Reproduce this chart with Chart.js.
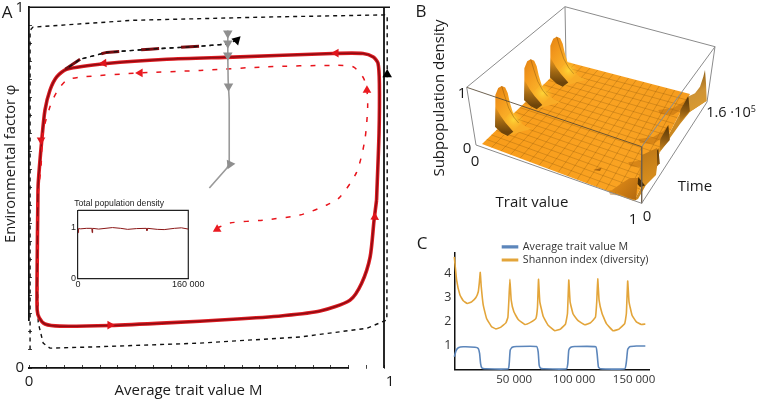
<!DOCTYPE html>
<html><head><meta charset="utf-8">
<script src="https://cdn.jsdelivr.net/npm/chart.js@4"></script>
<style>
html,body{margin:0;padding:0;background:#fff;width:757px;height:400px;overflow:hidden}
canvas{position:absolute;display:block}
.t{position:absolute;white-space:nowrap;font-family:"Open Sans",sans-serif;color:#1a1a1a;transform:translate(-50%,-50%);line-height:1}
</style></head><body>
<canvas id="a" width="410" height="400" style="left:0;top:0"></canvas>
<canvas id="b" width="347" height="230" style="left:410px;top:0"></canvas>
<canvas id="c" width="250" height="164" style="left:420px;top:236px"></canvas>
<canvas id="i" width="166" height="100" style="left:50px;top:195px"></canvas>
<script>
// ---------- Panel A: phase plane ----------
const mainX=[.979,.986,.987,.983,.970,.941,.856,.575,.388,.219,.106,.078,.059,.045,.036,.026,.025,.023,.023,.029,.045,.087,.228,.388,.575,.715,.820,.904,.937,.961,.972,.979];
const mainY=[.465,.651,.789,.845,.862,.872,.872,.862,.856,.844,.828,.807,.770,.715,.632,.512,.465,.281,.161,.139,.122,.116,.118,.125,.135,.145,.158,.188,.235,.308,.410,.465];
const transientX=[.529,.566,.659,.763,.839,.876,.923,.946,.954,.951,.941,.913,.856,.670,.482,.313,.152,.106,.078,.059,.039,.034,.025,.024,.023];
const transientY=[.388,.402,.410,.424,.452,.474,.543,.632,.723,.778,.806,.835,.839,.835,.825,.818,.807,.798,.765,.724,.651,.560,.474,.299,.161];
const outerX=[.585,.557,.482,.341,.219,.144,.106,.076,.059,.045,.036,.026,.023,.026,.040,.059,.2,.482,.763,.951,1.008,1.009,1.009,1.003,.670,.293,.011,.003,.003];
const outerY=[.909,.898,.892,.884,.875,.856,.830,.806,.770,.715,.632,.512,.281,.125,.069,.055,.059,.069,.086,.110,.133,.465,.978,.979,.973,.964,.945,.936,.05];
const thickX=[.102,.144,.219,.341,.482,.53];
const thickY=[.828,.856,.875,.884,.892,.896];
const grayX=[.508,.557,.566,.564,.561,.560,.560];
const grayY=[.499,.554,.568,.742,.798,.862,.936];
const redArrowX=[.228,.865,.211,.034,.974], redArrowY=[.119,.873,.845,.632,.418], redArrowDir=[90,270,266,180,2];
const dashArrowX=[.313,.952,.530], dashArrowY=[.818,.770,.385], dashArrowDir=[270,0,240];
const blackArrowX=[.585,1.009], blackArrowY=[.909,.814], blackArrowDir=[285,0];
const grayArrowX=[.560,.560,.560,.562,.566], grayArrowY=[.928,.900,.867,.781,.565], grayArrowDir=[180,180,180,180,205];
const axisEnd=1.0169;
// ---------- Inset: total population density ----------
const insetTime=[0,800,4000,12000,20000,20600,21200,30000,50000,62000,72000,85000,99000,100000,101000,115000,125000,140000,150000,160000];
const insetValue=[.90,.98,.975,.985,.985,.90,.985,.97,1.0,.985,.965,.98,.985,.94,.985,.965,.96,.985,.995,.97];
// ---------- Panel C: time series ----------
const shannonTime=[0,1944,4722,7500,10833,14444,18056,20000,20833,21667,22500,24167,26944,31111,34722,38611,43056,44722,45555,46389,47500,49722,53333,58888,63611,68055,69444,70278,71389,74167,78333,83889,88611,92778,94444,95555,96666,99166,103333,108888,113611,117777,118888,119722,120833,123333,126944,132500,137500,142222,143611,144722,145833,148333,151944,156111,159444];
const shannonValue=[4.71,3.74,3.11,2.87,2.76,2.83,3.01,3.25,3.6,4.06,3.46,2.69,2.13,1.79,1.70,1.76,1.95,2.18,2.9,3.77,2.9,2.41,2.09,1.88,1.97,2.13,2.62,3.77,2.83,2.23,1.85,1.62,1.69,1.90,2.34,3.74,2.83,2.32,2.04,1.87,1.95,2.18,2.83,3.79,2.90,2.34,1.92,1.62,1.69,1.92,2.34,3.70,2.83,2.27,1.99,1.88,1.90];
const meanTime=[0,1389,3333,7500,17222,20000,21111,21944,23055,25555,45000,45833,46667,48333,51944,68611,70000,70833,71944,74167,93611,94722,95555,97222,100555,118055,119166,120278,121944,142222,143611,144722,146389,151944,159444];
const meanValue=[.53,.78,.91,.95,.93,.88,.67,.25,.06,.03,.03,.25,.81,.93,.96,.96,.74,.18,.06,.03,.03,.25,.81,.93,.96,.95,.67,.11,.03,.03,.32,.84,.95,.98,.98];
const cTicks=[50000,100000,150000];
// ---------- Panel B: surface outlines (figure units) ----------
const floorX=[482,634,690,567], floorY=[144,201,94,62];
const finTipX=[556.7,530.7,501.7], finTipY=[36.7,59.3,86];
const finBodyX=[-6.7,-6.7,-6,-3.5,0,3.5,6,8,11,16,23,30,22,12,4,-1,-6.7];
const finBodyY=[40.7,20,9,2,0,1.5,7,16,26,34,40,43,45,48,50,46,40.7];
const finDarkX=[-6.7,-6.5,-1,4,11.6,6,0,-6.7];
const finDarkY=[20,20,30,37,45.7,50,47,40.7];
const finGlowX=[1.7,11.7,23,11.7], finGlowY=[34,23,34,45];
const finSpineX=[0,3,7,12,17], finSpineY=[0,10,22,31,37];
const toothTopX=[688.3,668.3,658.3,638.3], toothTopY=[96,125,148.3,176.7];
const toothWallX=[0,1.5,-9,-8], toothWallY=[0,15,27,14];
const toothBowlX=[-30,-15,-5,0,-8,-15,-28], toothBowlY=[14,12,6,0,14,19,18];
const bandX=[689,706.7,690,680,660,646,638,634], bandY=[96,100.7,111.7,124,152,185,199,201];
const rearFinX=[689.3,695,700,703.3,705,706,706.7,690,688.3], rearFinY=[96,93.3,86.7,76.7,70,83.3,100.7,111.7,103.3];
const frontBowlX=[612,622,630,638,636,628], frontBowlY=[190,183,178,178,200,198];
const frontPanelX=[641,646,656,657,657,642,639], frontPanelY=[186,185,175,167,148,155,178];
const frontWallX=[638.3,645,640,637.5], frontWallY=[177,185.5,187,184];
const bumpX=[593.3,601.7,600], bumpY=[170,167.7,171];
const boxTopX=[466.7,565,715,641.7], boxTopY=[87.3,6.7,46.7,146.7];
const boxBaseX=[476,566,707,641.7], boxBaseY=[145,62,102,203.3];
const meshTrait=[1,2,3,4,5,6,7,8,9,10,11,12,13,14,15].map(n=>n/16);
const meshTime=[1,2,3,4,5,6,7,8,9,10,11,12,13,14,15,16,17].map(n=>n/18);

const labelsB=[
 ["Subpopulation density",438,98,15,-90],["1",462,92,15,0],["0",467,147,15,0],["0",475,160,15,0],
 ["Trait value",532,201,15,0],["1",633,218,15,0],["0",647,215,15,0],["Time",695,185,15,0]
];
const panelLetters=[["A",7,11,17],["B",421,10,17],["C",422,242,17]];

Chart.defaults.animation=false;
Chart.defaults.devicePixelRatio=1;
Chart.defaults.responsive=false;
Chart.defaults.font.family='"Open Sans",sans-serif';
Chart.defaults.color='#1a1a1a';
const zip=(xs,ys)=>xs.map((x,i)=>({x,y:ys[i]}));
const noPlugins={legend:{display:false},tooltip:{enabled:false},title:{display:false}};
const line=(xs,ys,color,width,extra)=>Object.assign({data:zip(xs,ys),showLine:true,borderColor:color,borderWidth:width,pointRadius:0,tension:0,fill:false,clip:false},extra||{});
const arrows=(xs,ys,dirs,color,r)=>({data:zip(xs,ys),showLine:false,pointStyle:'triangle',pointRadius:r,pointRotation:dirs,pointBackgroundColor:color,pointBorderColor:color,pointBorderWidth:0,clip:false});
// fixes a scale's thickness and stops its end labels from shrinking the plot area
const fixSize=(prop,val)=>s=>{s[prop]=val;s.paddingTop=0;s.paddingBottom=0;s.paddingLeft=0;s.paddingRight=0;};

// ----- A -----
const aPaint=[
 line([0,axisEnd],[1,1],'#111',1.6),
 line([1,1],[0,1],'#111',1.8),
 line(outerX,outerY,'#111',1.4,{borderDash:[4,4]}),
 line(mainX,mainY,'#dd1c22',3.6,{tension:.25}),
 line(mainX,mainY,'#8e0b12',1.5,{tension:.25}),
 line(thickX,thickY,'#7d0c10',3,{borderDash:[18,22]}),
 line(outerX.slice(0,7),outerY.slice(0,7),'#111',1.3,{borderDash:[4,4]}),
 line(transientX,transientY,'#e8141c',1.5,{borderDash:[5,9],tension:.25}),
 line(grayX,grayY,'#9a9a9a',1.6),
 arrows(grayArrowX,grayArrowY,grayArrowDir,'#8f8f8f',5.5),
 arrows(redArrowX,redArrowY,redArrowDir,'#e0151c',5),
 arrows(dashArrowX,dashArrowY,dashArrowDir,'#ea1a20',5),
 arrows(blackArrowX,blackArrowY,blackArrowDir,'#000',5.5)
];
const aTicksX=[];for(let k=0;k<=20;k++)aTicksX.push(k/20);
new Chart(document.getElementById('a'),{type:'scatter',data:{datasets:aPaint.slice().reverse()},
 options:{layout:{padding:{top:7.3,right:20,left:0,bottom:0}},plugins:noPlugins,
 scales:{
  x:{type:'linear',min:0,max:axisEnd,afterFit:fixSize('height',32),
   afterBuildTicks:s=>{s.ticks=aTicksX.map(v=>({value:v})).concat([{value:axisEnd}])},
   grid:{drawOnChartArea:false,drawTicks:true,tickLength:-3,color:c=>c.tick&&c.tick.value===axisEnd?'rgba(0,0,0,0)':'#444',tickWidth:1},
   border:{display:true,color:'#111',width:1.8},
   ticks:{autoSkip:false,maxRotation:0,padding:8,font:{size:15},callback:v=>v===0?'0':(v===axisEnd?'1':'')},
   title:{display:true,text:'Average trait value M',font:{size:15},padding:{top:0,bottom:0}}},
  y:{type:'linear',min:0,max:1,afterFit:fixSize('width',29),
   afterBuildTicks:s=>{s.ticks=aTicksX.map(v=>({value:v}))},
   grid:{drawOnChartArea:false,drawTicks:true,tickLength:-3,color:'#444',tickWidth:1},
   border:{display:true,color:'#111',width:1.8},
   ticks:{autoSkip:false,padding:8,font:{size:15},callback:v=>v===0?'0':(v===1?'1':'')},
   title:{display:true,text:'Environmental factor φ',font:{size:14.7},padding:{top:2,bottom:0}}}
 }},
 plugins:[{id:'titleShift',afterLayout(c){c.scales.x.right=c.scales.x.left+319;c.scales.y.bottom=c.scales.y.top+313;}}]
});

// ----- Inset -----
new Chart(document.getElementById('i'),{type:'scatter',data:{datasets:[
  line(insetTime,insetValue,'#8a1616',1),
  line([0,160000,160000],[1.34,1.34,0],'#222',1.2)
 ]},
 options:{layout:{padding:{top:3,right:27.7,left:0,bottom:0}},
 plugins:{legend:{display:false},tooltip:{enabled:false},
  title:{display:true,text:'Total population density',color:'#222',font:{family:'"Liberation Sans",sans-serif',size:8.6,weight:'normal'},padding:{top:0,bottom:2}}},
 scales:{
  x:{type:'linear',min:0,max:160000,afterFit:fixSize('height',16.7),
   afterBuildTicks:s=>{s.ticks=[{value:0},{value:160000}]},
   grid:{display:false,drawTicks:false},border:{display:true,color:'#222',width:1.2},
   ticks:{padding:1,maxRotation:0,color:'#222',font:{family:'"Liberation Sans",sans-serif',size:9},callback:v=>v===0?'0':'160 000'}},
  y:{type:'linear',min:0,max:1.34,afterFit:fixSize('width',28),
   afterBuildTicks:s=>{s.ticks=[{value:0},{value:1}]},
   grid:{display:false,drawTicks:false},border:{display:true,color:'#222',width:1.2},
   ticks:{padding:2,color:'#222',font:{family:'"Liberation Sans",sans-serif',size:9},callback:v=>String(v)}}
 }}
});

// ----- C -----
new Chart(document.getElementById('c'),{type:'scatter',data:{datasets:[
  line(meanTime,meanValue,'#5c86bb',1.6,{label:'Average trait value M',backgroundColor:'#5c86bb',tension:.15}),
  line(shannonTime,shannonValue,'#e3a53a',1.6,{label:'Shannon index (diversity)',backgroundColor:'#e3a53a',tension:.1})
 ]},
 options:{layout:{padding:{top:17,right:21,left:0,bottom:0}},
 plugins:{tooltip:{enabled:false},title:{display:false},
  legend:{display:true,position:'chartArea',align:'start',labels:{boxWidth:15,boxHeight:1.5,padding:2.5,font:{size:10.7},color:'#333'}}},
 scales:{
  x:{type:'linear',min:0,max:162500,afterFit:fixSize('height',30.5),
   afterBuildTicks:s=>{s.ticks=cTicks.map(v=>({value:v}))},
   grid:{display:false,drawTicks:false},border:{display:true,color:'#111',width:1.5},
   ticks:{padding:3,maxRotation:0,font:{size:11.5},color:'#333',callback:v=>(v/1000)+' 000'}},
  y:{type:'linear',min:0,max:4.87,afterFit:fixSize('width',34.3),
   afterBuildTicks:s=>{s.ticks=[1,2,3,4].map(v=>({value:v}))},
   grid:{display:false,drawTicks:false},border:{display:true,color:'#111',width:1.5},
   ticks:{padding:3,font:{size:12.5},color:'#333'}}
 }},
 plugins:[{id:'legendPlace',afterLayout(c){const l=c.legend;const w=l.width;l.left=80;l.right=80+w;l.top=3;l.bottom=3+l.height;}}]
});

// ----- B -----
const add=(xs,dx)=>xs.map(x=>x+dx);
const grad=(x0,y0,x1,y1,stops)=>c=>{const ch=c.chart;if(!ch.chartArea)return stops[0][1];
 const g=ch.ctx.createLinearGradient(ch.scales.x.getPixelForValue(x0),ch.scales.y.getPixelForValue(y0),ch.scales.x.getPixelForValue(x1),ch.scales.y.getPixelForValue(y1));
 stops.forEach(s=>g.addColorStop(s[0],s[1]));return g;};
const glow=(cx,cy,r)=>c=>{const ch=c.chart;if(!ch.chartArea)return'rgba(255,220,60,0)';
 const X=ch.scales.x.getPixelForValue(cx),Y=ch.scales.y.getPixelForValue(cy);
 const g=ch.ctx.createRadialGradient(X,Y,0,X,Y,r);g.addColorStop(0,'rgba(255,226,60,.75)');g.addColorStop(1,'rgba(255,190,40,0)');return g;};
const poly=(xs,ys,fillCol,edge)=>({data:zip(xs.concat(xs[0]),ys.concat(ys[0])),showLine:true,fill:'shape',backgroundColor:fillCol,borderColor:edge||'rgba(0,0,0,0)',borderWidth:edge?.5:0,pointRadius:0,clip:false,tension:0});
const seg=(x0,y0,x1,y1,col,w)=>line([x0,x1],[y0,y1],col,w);
const boxCol='#8b8b8b';
const tan='#cb8820';
const bPaint=[];
bPaint.push(seg(boxTopX[0],boxTopY[0],boxTopX[1],boxTopY[1],boxCol,1));
bPaint.push(seg(boxTopX[1],boxTopY[1],boxTopX[2],boxTopY[2],boxCol,1));
bPaint.push(seg(boxTopX[1],boxTopY[1],boxBaseX[1],boxBaseY[1],boxCol,1));
bPaint.push(seg(boxTopX[2],boxTopY[2],boxBaseX[2],boxBaseY[2],boxCol,1));
bPaint.push(poly(bandX,bandY,tan));
bPaint.push(poly(rearFinX,rearFinY,grad(690,75,706,110,[[0,'#8a5a14'],[.5,'#cf9436'],[1,'#dc9c2e']])));
bPaint.push(poly(floorX,floorY,grad(482,144,690,94,[[0,'#f89c1a'],[.6,'#faa322'],[1,'#f59c1e']])));
const lerp=(a,b,t)=>a+(b-a)*t;
const meshCol='rgba(105,62,5,.4)';
meshTrait.forEach(u=>bPaint.push(seg(lerp(floorX[0],floorX[1],u),lerp(floorY[0],floorY[1],u),lerp(floorX[3],floorX[2],u),lerp(floorY[3],floorY[2],u),meshCol,.6)));
meshTime.forEach(v=>bPaint.push(seg(lerp(floorX[0],floorX[3],v),lerp(floorY[0],floorY[3],v),lerp(floorX[1],floorX[2],v),lerp(floorY[1],floorY[2],v),meshCol,.6)));
finTipX.forEach((tx,i)=>{const ty=finTipY[i];
 bPaint.push(poly(add(finBodyX,tx),add(finBodyY,ty),grad(tx-7,ty,tx+14,ty+16,[[0,'#e28212'],[.5,'#f2971c'],[1,'#f9ac26']])));
 bPaint.push(poly(add(finDarkX,tx),add(finDarkY,ty),grad(tx,ty+20,tx,ty+46,[[0,'rgba(110,65,8,0)'],[.6,'rgba(110,65,8,.65)'],[1,'rgba(85,50,5,.85)']])));
 bPaint.push(poly(add(finGlowX,tx),add(finGlowY,ty),glow(tx+11.7,ty+34,11)));
 bPaint.push(line(add(finSpineX,tx),add(finSpineY,ty),'rgba(105,62,5,.6)',.6));
});
toothTopX.forEach((tx,i)=>{const ty=toothTopY[i];
 bPaint.push(poly(add(toothBowlX,tx),add(toothBowlY,ty),'rgba(176,100,12,.45)'));
 if(i<3)bPaint.push(poly(add(toothWallX,tx),add(toothWallY,ty),grad(tx,ty,tx-4,ty+27,[[0,'#4f3106'],[.55,'#8f5a10'],[1,tan]])));
});
bPaint.push(poly(frontPanelX,frontPanelY,grad(640,150,655,186,[[0,'#bd7716'],[1,'#dd9320']])));
bPaint.push(poly(frontBowlX,frontBowlY,grad(612,178,636,200,[[0,'#e58f18'],[1,'#b3690f']])));
bPaint.push(poly(frontWallX,frontWallY,'#4a2e06'));
bPaint.push(poly(bumpX,bumpY,'#a8630f'));
bPaint.push(seg(boxTopX[0],boxTopY[0],boxTopX[3],boxTopY[3],'rgba(85,70,50,.85)',1));
bPaint.push(seg(boxTopX[2],boxTopY[2],boxTopX[3],boxTopY[3],boxCol,1));
bPaint.push(seg(boxTopX[0],boxTopY[0],boxBaseX[0],boxBaseY[0],boxCol,1));
bPaint.push(seg(boxTopX[3],boxTopY[3],boxBaseX[3],boxBaseY[3],'rgba(110,95,75,.85)',1));
bPaint.push(seg(boxBaseX[0],boxBaseY[0],boxBaseX[3],boxBaseY[3],boxCol,1));
bPaint.push(seg(boxBaseX[3],boxBaseY[3],boxBaseX[2],boxBaseY[2],boxCol,1));
new Chart(document.getElementById('b'),{type:'scatter',data:{datasets:bPaint.slice().reverse()},
 options:{plugins:noPlugins,layout:{padding:0},
 scales:{x:{type:'linear',min:410,max:757,display:false},y:{type:'linear',min:0,max:230,reverse:true,display:false}}}});

function put(txt,x,y,size,rot){const s=document.createElement('span');s.className='t';s.textContent=txt;s.style.left=x+'px';s.style.top=y+'px';s.style.fontSize=size+'px';if(rot)s.style.transform='translate(-50%,-50%) rotate('+rot+'deg)';document.body.appendChild(s);return s;}
labelsB.forEach(l=>put(l[0],l[1],l[2],l[3],l[4]));
panelLetters.forEach(l=>put(l[0],l[1],l[2],l[3]));
const pow=put('',731,112,14.5);pow.innerHTML='1.6 ·10<sup style="font-size:9px;vertical-align:5px;line-height:0">5</sup>';
</script>
</body></html>
